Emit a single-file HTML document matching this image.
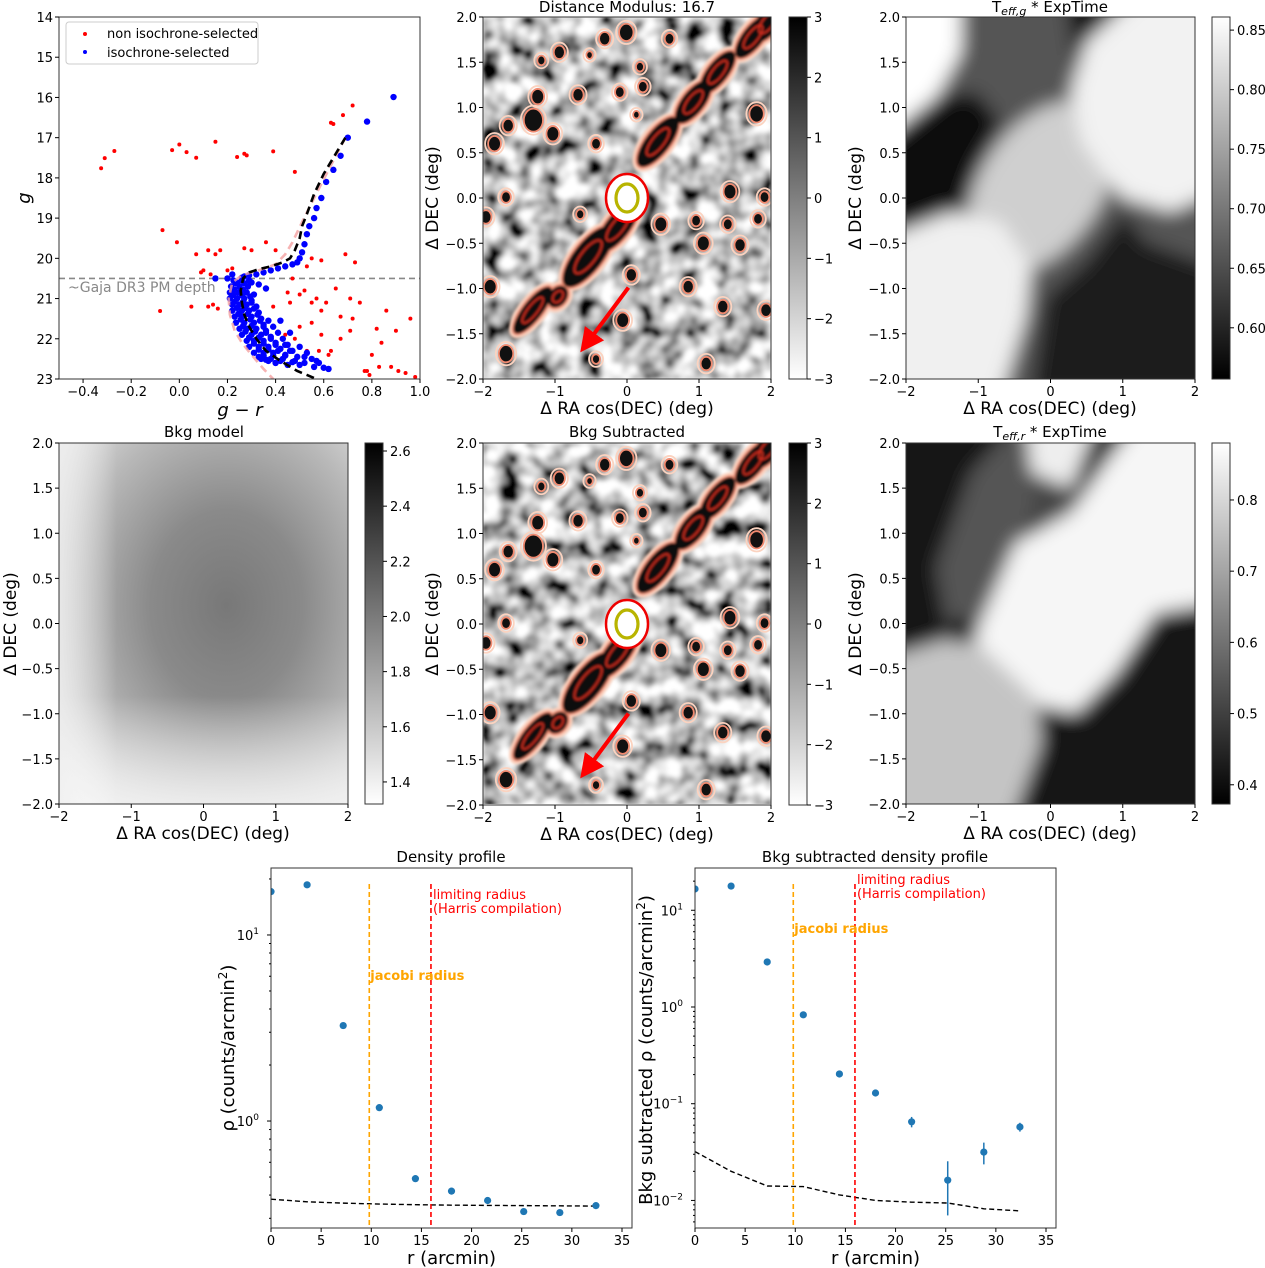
<!DOCTYPE html>
<html><head><meta charset="utf-8"><style>
html,body{margin:0;padding:0;background:#fff;}
svg{display:block;font-family:"DejaVu Sans","Liberation Sans",sans-serif;}
</style></head><body>
<svg id="fig" width="1265" height="1268" viewBox="0 0 1265 1268" xmlns="http://www.w3.org/2000/svg">
<defs>
<filter id="noiseA" x="0" y="0" width="100%" height="100%">
<feTurbulence type="fractalNoise" baseFrequency="0.05" numOctaves="2" seed="4"/>
<feColorMatrix type="matrix" values="2.3 0 0 0 -0.62  2.3 0 0 0 -0.62  2.3 0 0 0 -0.62  0 0 0 0 1"/>
<feGaussianBlur stdDeviation="1.5"/>
</filter>
<filter id="noiseB" x="0" y="0" width="100%" height="100%">
<feTurbulence type="fractalNoise" baseFrequency="0.05" numOctaves="2" seed="11"/>
<feColorMatrix type="matrix" values="2.3 0 0 0 -0.62  2.3 0 0 0 -0.62  2.3 0 0 0 -0.62  0 0 0 0 1"/>
<feGaussianBlur stdDeviation="1.5"/>
</filter>
<filter id="blur6"><feGaussianBlur stdDeviation="9"/></filter>
<filter id="blur1"><feGaussianBlur stdDeviation="1.2"/></filter>
<linearGradient id="cbDens" x1="0" y1="1" x2="0" y2="0"><stop offset="0" stop-color="#fff"/><stop offset="1" stop-color="#000"/></linearGradient>
<linearGradient id="cbTeff" x1="0" y1="1" x2="0" y2="0"><stop offset="0" stop-color="#000"/><stop offset="1" stop-color="#fff"/></linearGradient>
<radialGradient id="bkgGrad" cx="0.58" cy="0.45" r="0.75">
<stop offset="0" stop-color="#787878"/><stop offset="0.35" stop-color="#8a8a8a"/><stop offset="0.7" stop-color="#b8b8b8"/><stop offset="1" stop-color="#e6e6e6"/></radialGradient>
<linearGradient id="bkgBot" x1="0" y1="0" x2="0" y2="1"><stop offset="0.7" stop-color="#fff" stop-opacity="0"/><stop offset="1" stop-color="#f4f4f4" stop-opacity="0.85"/></linearGradient>
<linearGradient id="bkgLeft" x1="0" y1="0" x2="1" y2="0"><stop offset="0" stop-color="#f0f0f0" stop-opacity="0.8"/><stop offset="0.2" stop-color="#fff" stop-opacity="0"/></linearGradient>
<clipPath id="c2"><rect x="483" y="17" width="288" height="362"/></clipPath>
<clipPath id="c3"><rect x="906" y="17" width="289" height="362"/></clipPath>
<clipPath id="c5"><rect x="483" y="443" width="288" height="361"/></clipPath>
<clipPath id="c6"><rect x="906" y="443" width="289" height="361"/></clipPath>
<clipPath id="c1"><rect x="59" y="17" width="361" height="362"/></clipPath>
<clipPath id="c7"><rect x="271" y="868" width="361" height="360"/></clipPath>
<clipPath id="c8"><rect x="695" y="868" width="360" height="360"/></clipPath>
<marker id="arrowHead" markerWidth="6" markerHeight="6" refX="3" refY="3" orient="auto" markerUnits="strokeWidth"><path d="M0,0 L6,3 L0,6 z" fill="#f00"/></marker>
</defs>
</svg>
<script>
// ---------- CMD data ----------
const redColor = [-0.325,-0.31,-0.27,-0.03,0.0,0.03,0.07,0.15,0.24,0.27,0.28,0.39,0.48,0.63,0.68,0.72,0.64,-0.07,-0.01,0.12,0.15,0.17,0.30,0.47,0.53,0.55,0.59,0.52,0.57,0.07,0.10,0.13,-0.08,0.05,0.14,0.45,0.50,0.55,0.59,0.65,0.71,0.75,0.86,0.90,0.96,0.84,0.80,0.78,0.88,0.94,0.98,0.71,0.67,0.59,0.63,0.50,0.55,0.73,0.82,0.67,0.46,0.42,0.69,0.09,0.12,0.16,0.36,0.40,0.44,0.61,0.72,0.77,0.79,0.83,0.91,0.62,0.58,0.53,0.48,0.39,0.44,0.20,0.22,0.27];
const redMag   = [17.76,17.51,17.33,17.31,17.17,17.36,17.5,17.1,17.48,17.4,17.44,17.34,17.85,16.63,16.44,16.2,16.66,19.30,19.6,19.8,19.9,19.8,19.8,20.5,20.2,20.0,20.05,20.8,21.0,19.9,20.3,20.4,21.31,21.2,21.15,20.85,20.9,21.1,21.3,20.75,21.0,21.1,21.3,21.8,21.5,22.1,22.4,22.8,22.7,22.85,22.95,21.8,22.0,21.9,22.3,21.7,21.6,20.1,21.75,21.45,21.1,21.55,19.9,20.35,21.2,21.25,19.6,19.8,20.2,21.1,21.5,22.8,22.9,22.7,22.8,22.4,22.3,22.3,22.0,21.2,21.9,20.3,20.25,19.75];
const blueColor = [0.89,0.78,0.70,0.67,0.64,0.61,0.59,0.57,0.56,0.54,0.53,0.52,0.51,0.50,0.49,0.47,0.44,0.41,0.38,0.35,0.32,0.29,0.27,0.20,0.15,
0.225,0.26,0.29,0.215,0.25,0.285,0.21,0.245,0.28,0.31,0.21,0.24,0.27,0.30,0.22,0.25,0.28,0.32,0.22,0.26,0.29,0.33,0.23,0.26,0.30,0.34,0.37,0.235,0.27,0.31,0.35,0.39,0.25,0.28,0.32,0.36,0.41,0.26,0.30,0.34,0.38,0.43,0.28,0.31,0.35,0.40,0.45,0.50,0.29,0.33,0.37,0.42,0.47,0.53,0.31,0.35,0.39,0.44,0.49,0.55,0.34,0.38,0.43,0.48,0.52,0.58,0.40,0.45,0.50,0.56,0.62,0.60,0.30,0.33,0.36,0.42,0.46,
0.235,0.27,0.23,0.265,0.225,0.26,0.295,0.23,0.265,0.30,0.24,0.275,0.31,0.245,0.285,0.325,0.255,0.295,0.335,0.265,0.30,0.35,0.275,0.315,0.36,0.29,0.33,0.38,0.31,0.35,0.40,0.44,0.33,0.37,0.41,0.46,0.35,0.39,0.44,0.37,0.42,0.47,0.33,0.36,0.40,0.52,0.57,0.26,0.22,0.24];
const blueMag   = [15.99,16.6,17.0,17.45,17.8,18.1,18.5,18.75,19.0,19.2,19.4,19.65,19.85,20.0,20.1,20.15,20.2,20.25,20.3,20.35,20.4,20.42,20.45,20.5,20.5,
20.55,20.55,20.55,20.7,20.7,20.7,20.85,20.85,20.85,20.9,21.0,21.0,21.0,21.05,21.15,21.15,21.15,21.2,21.3,21.3,21.3,21.35,21.45,21.45,21.45,21.5,21.55,21.6,21.6,21.6,21.65,21.7,21.75,21.75,21.75,21.8,21.85,21.9,21.9,21.9,21.95,22.0,22.05,22.05,22.05,22.1,22.15,22.2,22.2,22.2,22.2,22.25,22.3,22.35,22.35,22.35,22.35,22.4,22.45,22.5,22.5,22.5,22.5,22.55,22.6,22.6,22.6,22.65,22.65,22.7,22.75,22.72,20.6,20.65,20.75,21.55,21.85,
20.62,20.62,20.78,20.78,20.92,20.92,20.95,21.08,21.08,21.1,21.23,21.23,21.25,21.38,21.38,21.4,21.52,21.52,21.55,21.68,21.68,21.7,21.82,21.82,21.85,21.97,21.97,22.0,22.12,22.12,22.15,22.15,22.27,22.27,22.3,22.3,22.42,22.42,22.42,22.55,22.55,22.58,22.45,22.52,22.6,22.45,22.55,20.48,20.4,20.6];
const isoColor = [0.69,0.64,0.60,0.56,0.53,0.51,0.50,0.48,0.46,0.43,0.38,0.33,0.29,0.265,0.255,0.26,0.27,0.29,0.32,0.36,0.42,0.49,0.57];
const isoMag   = [17.0,17.5,17.9,18.4,18.9,19.2,19.5,19.8,20.0,20.1,20.2,20.27,20.35,20.5,20.8,21.1,21.4,21.7,22.0,22.3,22.55,22.8,23.0];
const iso2Color = [0.69,0.62,0.56,0.51,0.47,0.44,0.40,0.33,0.26,0.22,0.205,0.21,0.23,0.26,0.30,0.35,0.39];
const iso2Mag   = [17.0,17.8,18.5,19.1,19.6,19.9,20.15,20.3,20.42,20.6,21.0,21.4,21.8,22.1,22.4,22.75,23.0];
// ---------- profile data ----------
const radii = [0,3.6,7.2,10.8,14.4,18,21.6,25.2,28.8,32.4];
const rhoTotal = [17.1,18.6,3.26,1.18,0.49,0.42,0.374,0.326,0.322,0.351];
const bkgR = [0,3.6,7.2,10.8,14.4,18,21.6,25.2,28.8,32.4];
const bkgTotal = [0.38,0.368,0.362,0.358,0.355,0.353,0.352,0.351,0.350,0.349];
const rhoSub = [16.6,17.8,2.92,0.83,0.203,0.129,0.065,0.0162,0.0316,0.0575];
const rhoSubErr = [0.4,0.4,0.1,0.04,0.01,0.008,0.008,0.0092,0.008,0.006];
const bkgSub = [0.032,0.020,0.0141,0.0139,0.0114,0.0100,0.0096,0.0094,0.0082,0.0078];
const jacobiR = 9.8, limitR = 15.95;
// ---------- stream map data (deg) ----------
const streamX = [-1.31,-0.96,-0.54,-0.13,0.01,0.43,0.92,1.26,1.75,1.96];
const streamY = [-1.24,-1.09,-0.65,-0.32,0.07,0.62,1.06,1.39,1.78,1.94];
const streamLen = [0.36,0.15,0.46,0.38,0.18,0.38,0.32,0.32,0.32,0.3];
const streamWid = [0.12,0.11,0.18,0.15,0.12,0.15,0.14,0.13,0.13,0.14];
const blobX = [-0.01,-0.31,0.59,-0.94,-1.19,-0.52,0.18,0.22,-0.1,-0.68,-1.24,-1.3,-1.03,-1.65,-1.84,-0.43,0.13,1.8,1.43,1.91,-1.68,-1.96,-0.65,0.47,0.96,1.4,1.82,1.06,1.57,0.06,0.85,-1.9,-0.06,1.33,1.93,-1.68,-0.43,1.1];
const blobY = [1.83,1.76,1.76,1.61,1.52,1.58,1.45,1.23,1.17,1.14,1.12,0.86,0.71,0.8,0.6,0.6,0.92,0.93,0.07,0.01,0.01,-0.21,-0.18,-0.29,-0.25,-0.29,-0.23,-0.5,-0.52,-0.85,-0.98,-0.98,-1.35,-1.2,-1.24,-1.72,-1.78,-1.83];
const blobR = [0.09,0.07,0.06,0.07,0.05,0.04,0.05,0.06,0.06,0.07,0.08,0.12,0.08,0.07,0.08,0.06,0.04,0.09,0.08,0.06,0.06,0.07,0.05,0.08,0.06,0.06,0.06,0.08,0.07,0.07,0.07,0.08,0.08,0.07,0.07,0.09,0.05,0.07];

const SVGNS='http://www.w3.org/2000/svg';
const svg=document.getElementById('fig');
function mk(tag,attrs,name,parent){
  const el=document.createElementNS(SVGNS,tag);
  for(const k in attrs) el.setAttribute(k,attrs[k]);
  
  
  (parent||svg).appendChild(el);
  return el;
}
function txt(x,y,s,name,o){
  o=o||{};
  const el=mk('text',{x:x,y:y,'font-size':o.size||13,'text-anchor':o.anchor||'middle',fill:o.fill||'#000','font-weight':o.weight||'normal','font-style':o.style||'normal'},name,o.parent);
  if(o.rot) el.setAttribute('transform','rotate('+o.rot+' '+x+' '+y+')');
  el.textContent=s;
  return el;
}
function frame(x,y,w,h,name){ mk('rect',{x:x,y:y,width:w,height:h,fill:'none',stroke:'#333','stroke-width':1},name); }
function xTicks(x0,x1,yb,vmin,vmax,vals,labels,name){
  vals.forEach((v,i)=>{const px=x0+(v-vmin)/(vmax-vmin)*(x1-x0);
    mk('line',{x1:px,x2:px,y1:yb,y2:yb+4,stroke:'#000'},name+'-tick');
    txt(px,yb+17,labels[i],name+'-label');});
}
function yTicks(xl,y0,y1,vmin,vmax,vals,labels,name,right){
  vals.forEach((v,i)=>{const py=y1-(v-vmin)/(vmax-vmin)*(y1-y0);
    mk('line',{x1:xl,x2:right?xl+4:xl-4,y1:py,y2:py,stroke:'#000'},name+'-tick');
    txt(right?xl+7:xl-6,py+5,labels[i],name+'-label',{anchor:right?'start':'end'});});
}
const degT=[-2,-1,0,1,2], degL=['−2','−1','0','1','2'];
const decT=[-2,-1.5,-1,-0.5,0,0.5,1,1.5,2], decL=['−2.0','−1.5','−1.0','−0.5','0.0','0.5','1.0','1.5','2.0'];

// ===== Panel 1: CMD =====
(function(){
  const X0=59,X1=420,Y0=17,Y1=379;
  const sx=v=>X0+(v+0.5)/1.5*(X1-X0), sy=v=>Y0+(v-14)/9*(Y1-Y0);
  const g=mk('g',{'clip-path':'url(#c1)'},'cmd-plot-area');
  mk('line',{x1:X0,x2:X1,y1:sy(20.5),y2:sy(20.5),stroke:'#888','stroke-width':1.6,'stroke-dasharray':'6,4'},'gaia-depth-line',g);
  txt(68,292,'~Gaja DR3 PM depth','gaia-depth-label',{anchor:'start',size:14,fill:'#888',parent:g});
  redColor.forEach((c,i)=>{mk('circle',{cx:sx(c),cy:sy(redMag[i]),r:2,fill:'#f00'},'non-selected-star',g);});
  blueColor.forEach((c,i)=>{mk('circle',{cx:sx(c),cy:sy(blueMag[i]),r:3.2,fill:'#00f'},'selected-star',g);});
  mk('polyline',{points:iso2Color.map((c,i)=>sx(c)+','+sy(iso2Mag[i])).join(' '),fill:'none',stroke:'#f4a0a0','stroke-width':2.6,'stroke-dasharray':'8,5','stroke-opacity':0.8},'isochrone-shifted',g);
  mk('polyline',{points:isoColor.map((c,i)=>sx(c)+','+sy(isoMag[i])).join(' '),fill:'none',stroke:'#000','stroke-width':2.6,'stroke-dasharray':'8,5'},'isochrone',g);
  frame(X0,Y0,X1-X0,Y1-Y0,'cmd-frame');
  xTicks(X0,X1,Y1,-0.5,1.0,[-0.4,-0.2,0,0.2,0.4,0.6,0.8,1.0],['−0.4','−0.2','0.0','0.2','0.4','0.6','0.8','1.0'],'cmd-x');
  const yv=[14,15,16,17,18,19,20,21,22,23];
  yv.forEach(v=>{const py=sy(v);mk('line',{x1:X0,x2:X0-4,y1:py,y2:py,stroke:'#000'},'cmd-y-tick');txt(X0-6,py+5,String(v),'cmd-y-label',{anchor:'end'});});
  txt(240,416,'g − r','cmd-x-title',{size:18,style:'italic'});
  txt(30,198,'g','cmd-y-title',{size:18,style:'italic',rot:-90});
  mk('rect',{x:66,y:22,width:192,height:42,rx:3,fill:'#fff','fill-opacity':0.85,stroke:'#ccc'},'legend-box');
  mk('circle',{cx:85,cy:34,r:2,fill:'#f00'},'legend-red-marker');
  txt(107,38,'non isochrone-selected','legend-entry-red',{anchor:'start'});
  mk('circle',{cx:85,cy:52,r:2,fill:'#00f'},'legend-blue-marker');
  txt(107,57,'isochrone-selected','legend-entry-blue',{anchor:'start'});
})();

// ===== density maps =====
function densityMap(X0,Y0,clip,filt,name){
  const W=288,H=362;
  const sx=v=>X0+(v+2)*W/4, sy=v=>Y0+(2-v)*H/4, s=80;
  const g=mk('g',{'clip-path':'url(#'+clip+')'},name+'-area');
  mk('rect',{x:X0,y:Y0,width:W,height:H,filter:'url(#'+filt+')'},name+'-noise',g);
  blobX.forEach((bx,i)=>{mk('ellipse',{cx:sx(bx),cy:sy(blobY[i]),rx:blobR[i]*s+3,ry:blobR[i]*s*1.2+3,fill:'none',stroke:'#fbd3c0','stroke-width':1.8},name+'-contour-outer',g);});
  blobX.forEach((bx,i)=>{mk('ellipse',{cx:sx(bx),cy:sy(blobY[i]),rx:blobR[i]*s,ry:blobR[i]*s*1.2,fill:'#111',stroke:'#f08a70','stroke-width':1.8},name+'-contour',g);});
  const sg=mk('g',{filter:'url(#blur1)'},name+'-stream-group',g);
  const rot=(i)=>'rotate(-52 '+sx(streamX[i])+' '+sy(streamY[i])+')';
  streamX.forEach((x,i)=>{mk('ellipse',{cx:sx(x),cy:sy(streamY[i]),rx:streamLen[i]*s+5,ry:streamWid[i]*s+5,fill:'#fbd3c0',transform:rot(i)},name+'-stream-halo',sg);});
  streamX.forEach((x,i)=>{mk('ellipse',{cx:sx(x),cy:sy(streamY[i]),rx:streamLen[i]*s+2,ry:streamWid[i]*s+2,fill:'#f08a70',transform:rot(i)},name+'-stream-edge',sg);});
  streamX.forEach((x,i)=>{mk('ellipse',{cx:sx(x),cy:sy(streamY[i]),rx:streamLen[i]*s,ry:streamWid[i]*s,fill:'#0a0a0a',transform:rot(i)},name+'-stream',sg);});
  streamX.forEach((x,i)=>{mk('ellipse',{cx:sx(x),cy:sy(streamY[i]),rx:streamLen[i]*s*0.55,ry:streamWid[i]*s*0.5,fill:'none',stroke:'#e03020','stroke-width':1.5,transform:rot(i)},name+'-stream-inner',sg);});
  mk('ellipse',{cx:sx(0),cy:sy(0),rx:21,ry:24,fill:'#fff',stroke:'#e00','stroke-width':2.5},name+'-cluster-core',g);
  mk('ellipse',{cx:sx(0),cy:sy(0),rx:11,ry:14,fill:'none',stroke:'#b8b400','stroke-width':3.2},name+'-cluster-ring',g);
  mk('line',{x1:sx(0.02),y1:sy(-0.99),x2:sx(-0.55),y2:sy(-1.6),stroke:'#f00','stroke-width':4,'marker-end':'url(#arrowHead)'},name+'-proper-motion-arrow',g);
  frame(X0,Y0,W,H,name+'-frame');
  xTicks(X0,X0+W,Y0+H,-2,2,degT,degL,name+'-x');
  yTicks(X0,Y0,Y0+H,-2,2,decT,decL,name+'-y');
  txt(X0+W/2,Y0+H+35,'Δ RA cos(DEC) (deg)','x-axis-title',{size:17});
  txt(X0-45,Y0+H/2,'Δ DEC (deg)','y-axis-title',{size:17,rot:-90});
  mk('rect',{x:789,y:Y0,width:18,height:H,fill:'url(#cbDens)',stroke:'#333'},name+'-colorbar');
  yTicks(807,Y0,Y0+H,-3,3,[-3,-2,-1,0,1,2,3],['−3','−2','−1','0','1','2','3'],name+'-cbar',true);
}
densityMap(483,17,'c2','noiseA','dm-map');
txt(627,12,'Distance Modulus: 16.7','dm-title',{size:15});
densityMap(483,443,'c5','noiseB','bkgsub-map');
txt(627,437,'Bkg Subtracted','bkgsub-title',{size:15});

// ===== Teff maps =====
function poly(pts,fill,g,X0,Y0,name){ mk('polygon',{points:pts.map((p,i)=>i%2?p+Y0:p+X0).reduce((a,v,i)=>a+(i%2?','+v+' ':v),''),fill:fill},name,g); }
(function(){
  const X0=906,Y0=17;
  const g=mk('g',{'clip-path':'url(#c3)'},'teff-g-area');
  const gb=mk('g',{filter:'url(#blur6)'},'teff-g-blur',g);
  mk('rect',{x:X0-20,y:Y0-20,width:330,height:400,fill:'#555'},'teff-g-base',gb);
  poly([-20,-20,55,-20,55,35,30,80,-20,120],'#fff',gb,X0,Y0,'teff-g-white-corner');
  poly([-20,120,30,80,70,75,95,105,70,150,50,205,-20,220],'#111',gb,X0,Y0,'teff-g-dark-band');
  poly([160,-20,215,-20,205,40,170,55],'#111',gb,X0,Y0,'teff-g-dark-top');
  mk('ellipse',{cx:X0+135,cy:Y0+170,rx:95,ry:60,fill:'#cfcfcf',transform:'rotate(-55 '+(X0+135)+' '+(Y0+170)+')'},'teff-g-mid-band',gb);
  poly([180,25,230,-20,310,-20,310,175,265,195,215,180,175,125,165,75],'#f2f2f2',gb,X0,Y0,'teff-g-white-ne');
  poly([-20,220,45,195,95,205,125,250,120,300,95,380,-20,380],'#f0f0f0',gb,X0,Y0,'teff-g-white-sw');
  poly([125,380,140,280,180,245,218,195,240,225,310,250,310,380],'#1a1a1a',gb,X0,Y0,'teff-g-dark-se');
  frame(X0,Y0,289,362,'teff-g-frame');
  xTicks(X0,X0+289,Y0+362,-2,2,degT,degL,'teff-g-x');
  yTicks(X0,Y0,Y0+362,-2,2,decT,decL,'teff-g-y');
  txt(X0+144,Y0+397,'Δ RA cos(DEC) (deg)','x-axis-title',{size:17});
  txt(X0-45,Y0+181,'Δ DEC (deg)','y-axis-title',{size:17,rot:-90});
  mk('rect',{x:1212,y:Y0,width:18,height:362,fill:'url(#cbTeff)',stroke:'#333'},'teff-g-colorbar');
  yTicks(1230,Y0,Y0+362,0.557,0.861,[0.6,0.65,0.7,0.75,0.8,0.85],['0.60','0.65','0.70','0.75','0.80','0.85'],'teff-g-cbar',true);
  const t=txt(1050,12,'T','teff-g-title',{size:15});
  const s1=document.createElementNS(SVGNS,'tspan');s1.setAttribute('font-size','11');s1.setAttribute('font-style','italic');s1.setAttribute('dy','3');s1.textContent='eff,g';t.appendChild(s1);
  const s2=document.createElementNS(SVGNS,'tspan');s2.setAttribute('dy','-3');s2.textContent=' * ExpTime';t.appendChild(s2);
})();
(function(){
  const X0=906,Y0=443;
  const g=mk('g',{'clip-path':'url(#c6)'},'teff-r-area');
  const gb=mk('g',{filter:'url(#blur6)'},'teff-r-blur',g);
  mk('rect',{x:X0-20,y:Y0-20,width:330,height:400,fill:'#141414'},'teff-r-base',gb);
  poly([30,125,65,30,110,-20,135,55,95,160,45,205],'#555',gb,X0,Y0,'teff-r-gray-strip');
  poly([110,-20,165,-20,170,90,140,100],'#444',gb,X0,Y0,'teff-r-gray-top');
  poly([120,-20,190,-20,165,45,125,30],'#eee',gb,X0,Y0,'teff-r-white-top');
  poly([70,190,110,100,165,70,200,20,230,-20,310,-20,310,160,250,170,210,230,170,270,120,260,80,240],'#f6f6f6',gb,X0,Y0,'teff-r-white-band');
  poly([-20,215,60,190,130,255,135,300,105,380,-20,380],'#c4c4c4',gb,X0,Y0,'teff-r-gray-sw');
  mk('circle',{cx:X0+55,cy:Y0+188,r:13,fill:'#111'},'teff-r-dark-spot',gb);
  frame(X0,Y0,289,361,'teff-r-frame');
  xTicks(X0,X0+289,Y0+361,-2,2,degT,degL,'teff-r-x');
  yTicks(X0,Y0,Y0+361,-2,2,decT,decL,'teff-r-y');
  txt(X0+144,Y0+396,'Δ RA cos(DEC) (deg)','x-axis-title',{size:17});
  txt(X0-45,Y0+181,'Δ DEC (deg)','y-axis-title',{size:17,rot:-90});
  mk('rect',{x:1212,y:Y0,width:18,height:361,fill:'url(#cbTeff)',stroke:'#333'},'teff-r-colorbar');
  yTicks(1230,Y0,Y0+361,0.373,0.88,[0.4,0.5,0.6,0.7,0.8],['0.4','0.5','0.6','0.7','0.8'],'teff-r-cbar',true);
  const t=txt(1050,437,'T','teff-r-title',{size:15});
  const s1=document.createElementNS(SVGNS,'tspan');s1.setAttribute('font-size','11');s1.setAttribute('font-style','italic');s1.setAttribute('dy','3');s1.textContent='eff,r';t.appendChild(s1);
  const s2=document.createElementNS(SVGNS,'tspan');s2.setAttribute('dy','-3');s2.textContent=' * ExpTime';t.appendChild(s2);
})();

// ===== Bkg model =====
(function(){
  const X0=59,Y0=443,W=289,H=361;
  mk('rect',{x:X0,y:Y0,width:W,height:H,fill:'url(#bkgGrad)'},'bkg-model-map');
  mk('rect',{x:X0,y:Y0,width:W,height:H,fill:'url(#bkgBot)'},'bkg-model-bottom-fade');
  mk('rect',{x:X0,y:Y0,width:W,height:H,fill:'url(#bkgLeft)'},'bkg-model-left-fade');
  frame(X0,Y0,W,H,'bkg-model-frame');
  xTicks(X0,X0+W,Y0+H,-2,2,degT,degL,'bkg-model-x');
  yTicks(X0,Y0,Y0+H,-2,2,decT,decL,'bkg-model-y');
  txt(X0+144,Y0+396,'Δ RA cos(DEC) (deg)','x-axis-title',{size:17});
  txt(16,Y0+181,'Δ DEC (deg)','y-axis-title',{size:17,rot:-90});
  txt(204,437,'Bkg model','bkg-model-title',{size:15});
  mk('rect',{x:365,y:Y0,width:18,height:H,fill:'url(#cbDens)',stroke:'#333'},'bkg-model-colorbar');
  yTicks(383,Y0,Y0+H,1.32,2.629,[1.4,1.6,1.8,2.0,2.2,2.4,2.6],['1.4','1.6','1.8','2.0','2.2','2.4','2.6'],'bkg-cbar',true);
})();

// ===== profiles =====
function profile(X0,X1,Y0,Y1,lmin,lmax,vals,errs,bkg,clip,name,jy,ly){
  const sx=v=>X0+v/35.0*(X1-X0-10), sy=v=>Y1-(Math.log10(v)-lmin)/(lmax-lmin)*(Y1-Y0);
  const g=mk('g',{'clip-path':'url(#'+clip+')'},name+'-area');
  mk('polyline',{points:bkgR.map((r,i)=>sx(r)+','+sy(bkg[i])).join(' '),fill:'none',stroke:'#000','stroke-width':1.4,'stroke-dasharray':'5,3'},name+'-bkg-line',g);
  mk('line',{x1:sx(jacobiR),x2:sx(jacobiR),y1:Y0+16,y2:Y1,stroke:'orange','stroke-width':1.6,'stroke-dasharray':'5,3'},name+'-jacobi-line',g);
  mk('line',{x1:sx(limitR),x2:sx(limitR),y1:Y0+16,y2:Y1,stroke:'#f00','stroke-width':1.6,'stroke-dasharray':'5,3'},name+'-limit-line',g);
  radii.forEach((r,i)=>{
    if(errs){mk('line',{x1:sx(r),x2:sx(r),y1:sy(vals[i]+errs[i]),y2:sy(Math.max(vals[i]-errs[i],1e-4)),stroke:'#1f77b4','stroke-width':1.5},name+'-errbar',g);}
    mk('circle',{cx:sx(r),cy:sy(vals[i]),r:3.6,fill:'#1f77b4'},name+'-point',g);
  });
  txt(sx(limitR)+2,Y0+jy,'limiting radius','limit-radius-label',{anchor:'start',fill:'#f00'});
  txt(sx(limitR)+2,Y0+jy+14,'(Harris compilation)','limit-radius-note',{anchor:'start',fill:'#f00'});
  txt(sx(jacobiR)+1,Y0+ly,'jacobi radius','jacobi-radius-label',{anchor:'start',fill:'orange',weight:'bold'});
  frame(X0,Y0,X1-X0,Y1-Y0,name+'-frame');
  xTicks(X0,X1-10,Y1,0,35,[0,5,10,15,20,25,30,35],['0','5','10','15','20','25','30','35'],name+'-x');
  for(let d=Math.floor(lmin);d<=Math.ceil(lmax);d++){
    for(let m=1;m<10;m++){const lv=d+Math.log10(m); if(lv<lmin||lv>lmax) continue;
      const py=Y1-(lv-lmin)/(lmax-lmin)*(Y1-Y0);
      mk('line',{x1:X0,x2:X0-(m===1?4:2),y1:py,y2:py,stroke:'#000'},name+'-y-tick');
      if(m===1){const t=txt(X0-12,py+5,'10',name+'-y-label',{anchor:'end'});
        const s=document.createElementNS(SVGNS,'tspan');s.setAttribute('font-size','9');s.setAttribute('dy','-6');s.textContent=(d<0?'−':'')+Math.abs(d);t.appendChild(s);}
    }
  }
  txt((X0+X1)/2,Y1+36,'r (arcmin)','x-axis-title',{size:18});
}
profile(271,632,868,1228,-0.575,1.36,rhoTotal,null,bkgTotal,'c7','density-profile',31,112);
txt(451,862,'Density profile','density-profile-title',{size:15});
(function(){const t=txt(234,1048,'ρ (counts/arcmin','y-axis-title',{size:18,rot:-90});const s=document.createElementNS(SVGNS,'tspan');s.setAttribute('font-size','12');s.setAttribute('dy','-7');s.textContent='2';t.appendChild(s);const s2=document.createElementNS(SVGNS,'tspan');s2.setAttribute('dy','7');s2.textContent=')';t.appendChild(s2);})();
profile(695,1056,868,1228,-2.285,1.437,rhoSub,rhoSubErr,bkgSub,'c8','bkgsub-profile',16,65);
txt(875,862,'Bkg subtracted density profile','bkgsub-profile-title',{size:15});
(function(){const t=txt(652,1050,'Bkg subtracted ρ (counts/arcmin','y-axis-title',{size:18,rot:-90});const s=document.createElementNS(SVGNS,'tspan');s.setAttribute('font-size','12');s.setAttribute('dy','-7');s.textContent='2';t.appendChild(s);const s2=document.createElementNS(SVGNS,'tspan');s2.setAttribute('dy','7');s2.textContent=')';t.appendChild(s2);})();
</script>
</body></html>
